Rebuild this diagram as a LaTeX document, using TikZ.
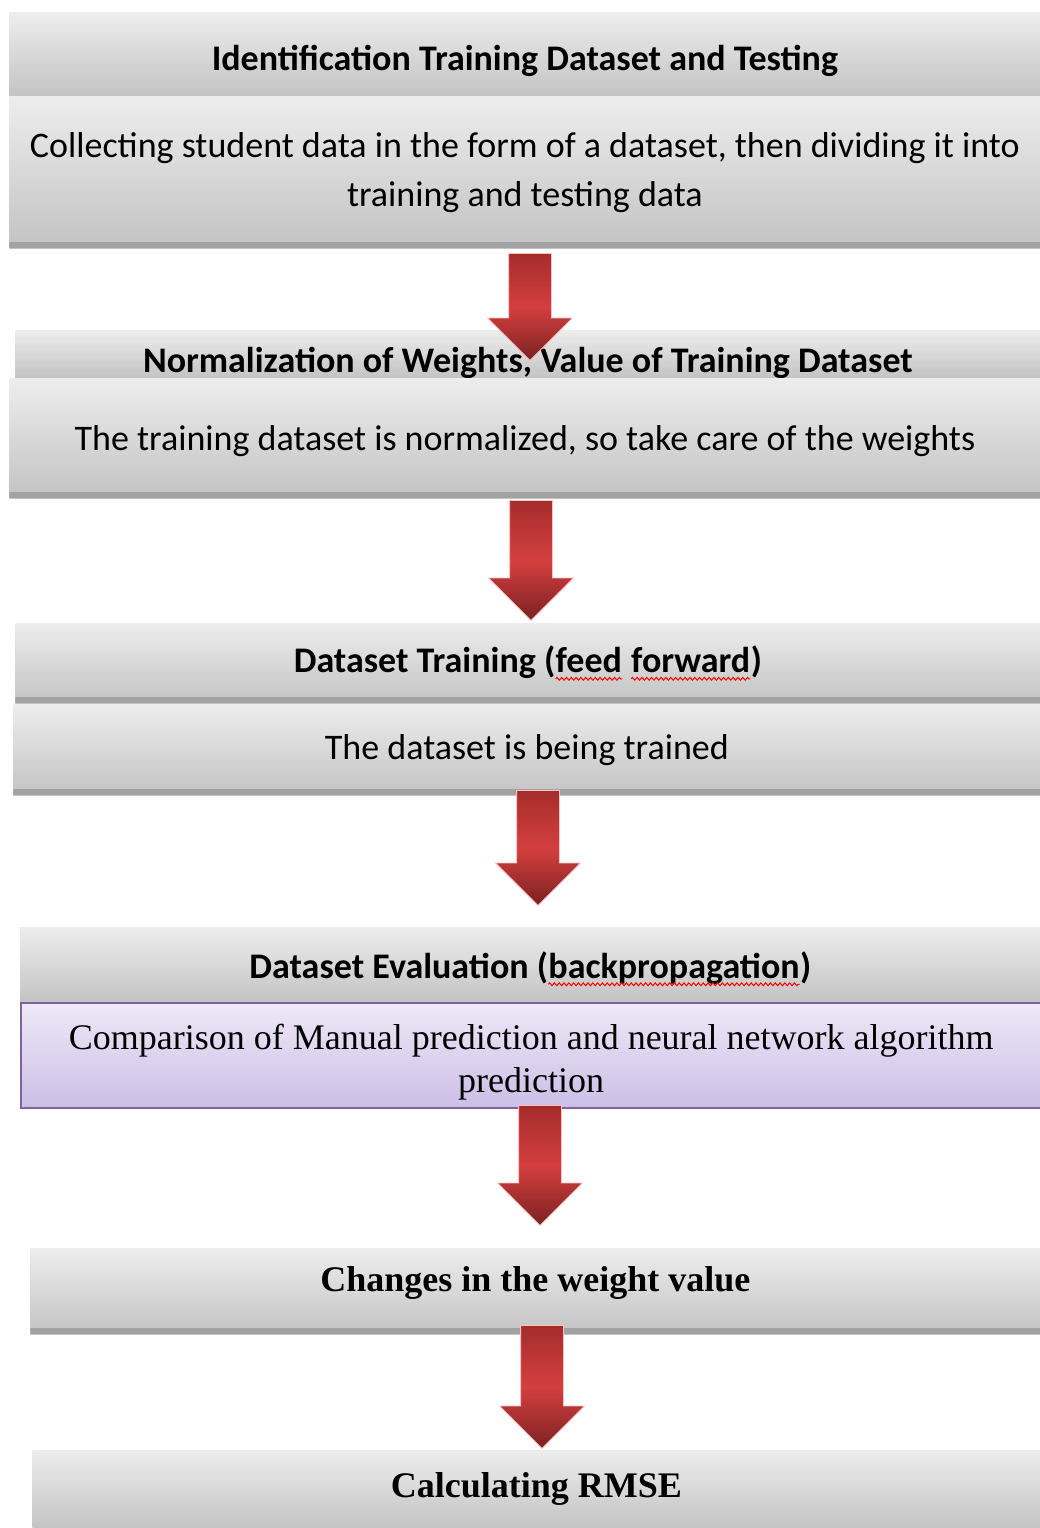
\documentclass[tikz,border=0pt]{standalone}
\usepackage{fontspec}
\setmainfont{Carlito}
\newfontfamily\timesfont{Liberation Serif}
\usetikzlibrary{shapes.arrows,decorations.pathmorphing}
\definecolor{boxtop}{HTML}{EDEDED}
\definecolor{boxbot}{HTML}{C3C3C3}
\definecolor{boxband}{HTML}{A2A2A2}
\definecolor{purpletop}{HTML}{EEE9F7}
\definecolor{purplebot}{HTML}{CBBEE6}
\definecolor{purpleline}{HTML}{7E63A1}
\definecolor{arrowdark}{HTML}{A52C2C}
\definecolor{arrowmid}{HTML}{D43F3F}
\newcommand\spellwave[1]{\tikz[baseline = (sw.base)]{\node[inner sep = 0pt, outer sep = 0pt, minimum width = 0pt, minimum height = 0pt, text depth = , text height = , align = left] (sw) {#1}; \draw[red, line width = .5pt, decorate, decoration = {zigzag, amplitude = .7pt, segment length = 2.4pt}] ([yshift = -3pt]sw.base west) -- ([yshift = -3pt]sw.base east);}}

\begin{document}
\begin{tikzpicture}[x = .5pt, y = -.5pt,
  graybox/.style = {anchor = north west, inner sep = 0pt, top color = boxtop, bottom color = boxbot, align = center},
  banded/.style = {path picture = {\fill[boxband] (path picture bounding box.south west) rectangle ([yshift = 3pt]path picture bounding box.south east);}},
  headtext/.style = {font = \fontsize{18}{24}\selectfont\bfseries},
  bodytext/.style = {font = \fontsize{18}{24.5}\selectfont},
  serifhead/.style = {font = \fontsize{18}{21}\timesfont\bfseries},
  arrowdn/.style = {single arrow, rotate = -90, anchor = tail, inner xsep = 0pt, inner ysep = 10.5pt, minimum width = 42pt, single arrow head extend = 10.5pt, single arrow tip angle = 90, top color = arrowdark, bottom color = arrowdark!75!black, middle color = arrowmid, draw = red!25!white, line width = .4pt}]
\useasboundingbox (0,0) rectangle (1040,1528);
\node[graybox, headtext, minimum width = 515.5pt, minimum height = 42pt, text height = 16pt, text depth = 0pt] (hd1) at (9,12) {Identification Training Dataset and Testing};
\node[graybox, banded, bodytext, minimum width = 515.5pt, minimum height = 76pt] (bd1) at (9,96) {Collecting student data in the form of a dataset, then dividing it into\\training and testing data};
\node[graybox, headtext, minimum width = 512.5pt, minimum height = 24pt, text height = 18pt, text depth = 0pt] (hd2) at (15,330) {Normalization of Weights, Value of Training Dataset};
\node[graybox, banded, bodytext, minimum width = 515.5pt, minimum height = 60pt, text depth = 0pt] (bd2) at (9,378) {The training dataset is normalized, so take care of the weights};
\node[graybox, banded, headtext, minimum width = 512.5pt, minimum height = 40pt] (hd3) at (15,623) {Dataset Training (\spellwave{feed} \spellwave{forward})};
\node[graybox, banded, bodytext, minimum width = 513.5pt, minimum height = 45.5pt] (bd3) at (13,704) {The dataset is being trained};
\node[graybox, headtext, minimum width = 510pt, minimum height = 37.5pt, text depth = 0pt] (hd4) at (20,927) {Dataset Evaluation (\spellwave{backpropagation})};
\node[anchor = north west, inner sep = 0pt, top color = purpletop, bottom color = purplebot, draw = purpleline, line width = 1.2pt, align = center, font = \fontsize{18}{21.5}\timesfont, minimum width = 510pt, minimum height = 52.5pt, text height = 37pt, text depth = 0pt] (bd4) at (20,1002) {Comparison of Manual prediction and neural network algorithm\\prediction};
\node[graybox, banded, serifhead, minimum width = 505pt, minimum height = 43pt, text depth = 12pt] (bx5) at (30,1248) {Changes in the weight value};
\node[graybox, serifhead, minimum width = 504pt, minimum height = 39pt] (bx6) at (32,1450) {Calculating RMSE};
\node[arrowdn, minimum height = 53.5pt] (a1) at (530,253) {};
\node[arrowdn, minimum height = 60pt] (a2) at (531,500) {};
\node[arrowdn, minimum height = 57.5pt] (a3) at (538,790) {};
\node[arrowdn, minimum height = 60pt] (a4) at (540,1105) {};
\node[arrowdn, minimum height = 61.5pt] (a5) at (542,1325) {};
\end{tikzpicture}
\end{document}
